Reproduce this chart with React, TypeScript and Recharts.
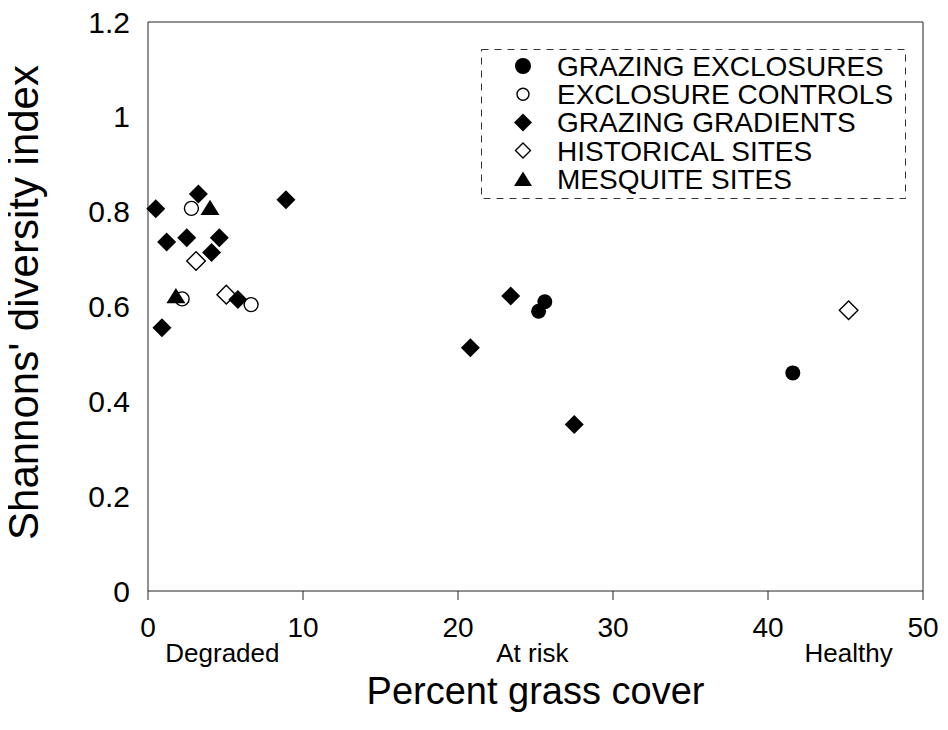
import React from 'react';
import { ScatterChart, Scatter, XAxis, YAxis, Legend } from 'recharts';

const FONT = '"Liberation Sans", Arial, Helvetica, sans-serif';

// x = percent grass cover, y = Shannon's diversity index
const grazingExclosures = [
  { x: 25.6, y: 0.61 },
  { x: 25.2, y: 0.59 },
  { x: 41.6, y: 0.46 },
];

const exclosureControls = [
  { x: 2.8, y: 0.807 },
  { x: 2.2, y: 0.616 },
  { x: 6.65, y: 0.604 },
];

const grazingGradients = [
  { x: 0.5, y: 0.806 },
  { x: 0.9, y: 0.555 },
  { x: 1.2, y: 0.736 },
  { x: 2.5, y: 0.745 },
  { x: 3.25, y: 0.837 },
  { x: 4.1, y: 0.714 },
  { x: 4.6, y: 0.745 },
  { x: 5.8, y: 0.615 },
  { x: 8.9, y: 0.825 },
  { x: 20.8, y: 0.513 },
  { x: 23.4, y: 0.622 },
  { x: 27.5, y: 0.351 },
];

const historicalSites = [
  { x: 3.1, y: 0.696 },
  { x: 5.05, y: 0.625 },
  { x: 45.2, y: 0.592 },
];

const mesquiteSites = [
  { x: 4.0, y: 0.809 },
  { x: 1.8, y: 0.623 },
];

const xTicks = [0, 10, 20, 30, 40, 50];
const yTicks = [0, 0.2, 0.4, 0.6, 0.8, 1, 1.2];
const conditionTicks = [4.8, 24.8, 45.2];
const conditionLabels = ['Degraded', 'At risk', 'Healthy'];

type Kind = 'circle' | 'diamond' | 'triangle';

// every axis shares the same domain, so each series can sit on any x/y pair;
// spreading them out keeps the frame axes (top, right, inner ticks) populated
const SERIES: {
  name: string;
  data: { x: number; y: number }[];
  kind: Kind;
  open: boolean;
  size: number;
  legendSize: number;
  xAxisId: string;
  yAxisId: string;
}[] = [
  { name: 'GRAZING EXCLOSURES', data: grazingExclosures, kind: 'circle', open: false, size: 7.5, legendSize: 8, xAxisId: 'xa', yAxisId: 'y' },
  { name: 'EXCLOSURE CONTROLS', data: exclosureControls, kind: 'circle', open: true, size: 7, legendSize: 6, xAxisId: 'top', yAxisId: 'right' },
  { name: 'GRAZING GRADIENTS', data: grazingGradients, kind: 'diamond', open: false, size: 9.5, legendSize: 9, xAxisId: 'xa', yAxisId: 'y' },
  { name: 'HISTORICAL SITES', data: historicalSites, kind: 'diamond', open: true, size: 9.3, legendSize: 7.5, xAxisId: 'xb', yAxisId: 'leftTicks' },
  { name: 'MESQUITE SITES', data: mesquiteSites, kind: 'triangle', open: false, size: 9.5, legendSize: 9, xAxisId: 'xa', yAxisId: 'y' },
];

// open markers first so the filled ones sit on top
const drawOrder = [3, 1, 2, 0, 4];

function Marker({ kind, open, size, cx = 0, cy = 0 }: { kind: Kind; open: boolean; size: number; cx?: number; cy?: number }) {
  const fill = open ? '#fff' : '#000';
  const sw = open ? 1.4 : 0;
  if (kind === 'circle') {
    return <circle cx={cx} cy={cy} r={size} fill={fill} stroke="#000" strokeWidth={sw} />;
  }
  if (kind === 'diamond') {
    const pts = `${cx},${cy - size} ${cx + size},${cy} ${cx},${cy + size} ${cx - size},${cy}`;
    return <polygon points={pts} fill={fill} stroke="#000" strokeWidth={sw} />;
  }
  const h = size * 1.6;
  const pts = `${cx - size},${cy + h / 2} ${cx + size},${cy + h / 2} ${cx},${cy - h / 2}`;
  return <polygon points={pts} fill={fill} stroke="#000" strokeWidth={sw} />;
}

function LegendBox() {
  return (
    <svg width={425} height={150} style={{ display: 'block' }}>
      <rect x={0.5} y={0.5} width={424} height={149} fill="#fff" stroke="#333" strokeDasharray="7 6" />
      {SERIES.map((s, i) => {
        const cy = 17 + i * 28.2;
        return (
          <g key={s.name}>
            <Marker kind={s.kind} open={s.open} size={s.legendSize} cx={42} cy={cy} />
            <text x={76} y={cy + 10} fontSize={28} fontFamily={FONT} fill="#000">
              {s.name}
            </text>
          </g>
        );
      })}
    </svg>
  );
}

function YTitle(props: any) {
  const vb = props.viewBox ?? { x: 8, y: 22, width: 140, height: 569 };
  const x = vb.x + 30;
  const y = vb.y + vb.height / 2 - 4;
  return (
    <text x={x} y={y} transform={`rotate(-90 ${x} ${y})`} textAnchor="middle" fontSize={42} fontFamily={FONT} fill="#000">
      Shannons' diversity index
    </text>
  );
}

function XTitle(props: any) {
  const vb = props.viewBox ?? { x: 148, y: 635, width: 775, height: 87 };
  return (
    <text x={vb.x + vb.width / 2} y={vb.y + 69} textAnchor="middle" fontSize={38} fontFamily={FONT} fill="#000">
      Percent grass cover
    </text>
  );
}

export default function App() {
  return (
    <div style={{ margin: -8 }}>
      <ScatterChart
        width={948}
        height={730}
        margin={{ top: 21, right: 25, bottom: 8, left: 8 }}
        style={{ fontFamily: FONT }}
      >
        <XAxis
          xAxisId="xa"
          type="number"
          dataKey="x"
          domain={[0, 50]}
          ticks={xTicks}
          interval={0}
          height={44}
          tickSize={9}
          tickMargin={17}
          stroke="#222"
          tick={{ fill: '#000', fontSize: 28 }}
        />
        <XAxis
          xAxisId="xb"
          type="number"
          dataKey="x"
          domain={[0, 50]}
          ticks={conditionTicks}
          interval={0}
          height={87}
          axisLine={false}
          tickLine={false}
          tickSize={0}
          tickMargin={9}
          tickFormatter={(v: number) => conditionLabels[conditionTicks.indexOf(v)]}
          tick={{ fill: '#000', fontSize: 26 }}
          label={<XTitle />}
        />
        <XAxis
          xAxisId="top"
          orientation="top"
          type="number"
          dataKey="x"
          domain={[0, 50]}
          ticks={xTicks}
          interval={0}
          height={1}
          tick={false}
          tickSize={7}
          stroke="#222"
        />
        <YAxis
          yAxisId="y"
          type="number"
          dataKey="y"
          domain={[0, 1.2]}
          ticks={yTicks}
          interval={0}
          width={140}
          tickLine={false}
          tickSize={0}
          tickMargin={18}
          stroke="#222"
          tick={{ fill: '#000', fontSize: 30 }}
          label={<YTitle />}
        />
        <YAxis
          yAxisId="leftTicks"
          orientation="left"
          mirror
          type="number"
          dataKey="y"
          domain={[0, 1.2]}
          ticks={yTicks}
          interval={0}
          width={1}
          axisLine={false}
          tick={false}
          tickSize={9}
          stroke="#222"
        />
        <YAxis
          yAxisId="right"
          orientation="right"
          mirror
          type="number"
          dataKey="y"
          domain={[0, 1.2]}
          ticks={yTicks}
          interval={0}
          width={1}
          tick={false}
          tickSize={9}
          stroke="#222"
        />
        {drawOrder.map((i) => {
          const s = SERIES[i];
          return (
            <Scatter
              key={s.name}
              name={s.name}
              data={s.data}
              xAxisId={s.xAxisId}
              yAxisId={s.yAxisId}
              isAnimationActive={false}
              shape={(p: any) => <Marker kind={s.kind} open={s.open} size={s.size} cx={p.cx} cy={p.cy} />}
            />
          );
        })}
        <Legend
          content={<LegendBox />}
          layout="vertical"
          verticalAlign="middle"
          align="center"
          wrapperStyle={{ left: 481, top: 49, width: 425, height: 150 }}
        />
      </ScatterChart>
    </div>
  );
}
